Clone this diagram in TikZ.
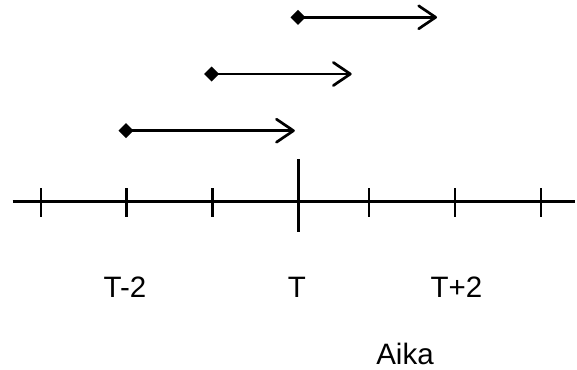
\documentclass[tikz,border=0pt]{standalone}
\usepackage{fontspec}
\setmainfont{Liberation Sans}
\usetikzlibrary{arrows.meta}
\begin{document}
\begin{tikzpicture}[x=1pt,y=-1pt,
  axisline/.style={line width=2.5pt},
  tickline/.style={line width=2.4pt},
  span/.style={line width=2.7pt,line join=round,
    {Diamond[length=15pt,width=15pt,line width=0pt]}-{Straight Barb[length=17pt,width=23pt,line width=2.7pt,round]},
    shorten <=-7.5pt},
  lbl/.style={font=\fontsize{29.5pt}{32pt}\selectfont,anchor=base,inner sep=0pt}]
\useasboundingbox (0,0) rectangle (577,369);
% time axis
\draw[axisline] (12.5,201.7) -- (575,201.7);
\foreach \x in {41,126.3,212.3,369,455,540.7}
  \draw[tickline] (\x,188.3) -- (\x,216.7);
\draw[tickline] (298.3,159.3) -- (298.3,231.7);
% intervals: start marker and end point of each
\coordinate (s1) at (298,17.3);
\coordinate (e1) at (437,17.3);
\coordinate (s2) at (211.7,74);
\coordinate (e2) at (351.7,74);
\coordinate (s3) at (126,130.7);
\coordinate (e3) at (294.8,130.7);
\draw[span] (s1) -- (e1);
\draw[span] (s2) -- (e2);
\draw[span] (s3) -- (e3);
% labels
\node[lbl] (tm2) at (125,297.5) {T-2};
\node[lbl] (t0) at (297,297.5) {T};
\node[lbl] (tp2) at (456.5,297.5) {T+2};
\node[lbl] (aika) at (405,364.3) {Aika};
\end{tikzpicture}
\end{document}
